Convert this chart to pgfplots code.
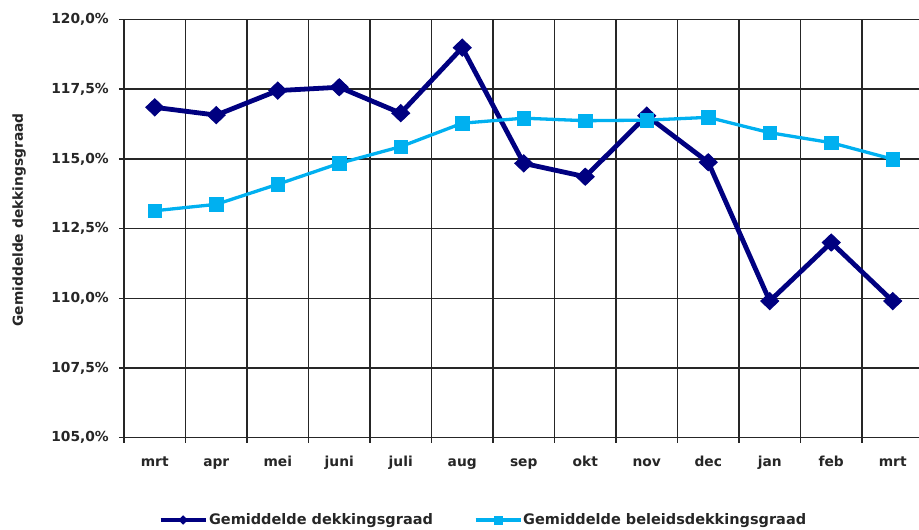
\documentclass[border=0pt]{standalone}
\usepackage{fontspec}
\setmainfont{DejaVu Sans}
\usepackage{pgfplots}
\pgfplotsset{compat=1.18}
\definecolor{darkser}{HTML}{000080}
\definecolor{lightser}{HTML}{00B0F0}
\definecolor{gridc}{HTML}{262626}
\newcommand\lbl{\fontsize{13.8}{16}\selectfont\bfseries}
\newcommand\leg{\fontsize{14.5}{17}\selectfont\bfseries}
\begin{document}
\begin{tikzpicture}[x=1pt,y=1pt]
\path[use as bounding box] (0,0) rectangle (919,530);
\begin{axis}[
  at={(124pt,92.3pt)}, anchor=south west,
  scale only axis, width=795pt, height=418.2pt,
  xmin=-0.5, xmax=12.427, ymin=105, ymax=120,
  axis x line*=bottom, axis y line*=left,
  axis line style={gridc, line width=1.5pt},
  xtick={-0.5,0.5,1.5,2.5,3.5,4.5,5.5,6.5,7.5,8.5,9.5,10.5,11.5},
  xticklabels={},
  extra x ticks={0,1,2,3,4,5,6,7,8,9,10,11,12},
  extra x tick labels={mrt,apr,mei,juni,juli,aug,sep,okt,nov,dec,jan,feb,mrt},
  extra x tick style={major tick length=0pt, grid=none,
     xticklabel style={anchor=base, yshift=-29pt, inner sep=0pt}},
  ytick={105,107.5,110,112.5,115,117.5,120},
  yticklabels={{105,0\%},{107,5\%},{110,0\%},{112,5\%},{115,0\%},{117,5\%},{120,0\%}},
  yticklabel style={anchor=east, inner sep=0pt, xshift=-10pt},
  tick label style={font=\lbl, text=black!85},
  xmajorgrids, ymajorgrids,
  grid style={gridc, line width=1.5pt},
  tick align=outside, major tick length=5pt,
  tick style={gridc, line width=1.5pt},
  ylabel={Gemiddelde dekkingsgraad},
  ylabel style={at={(axis description cs:-0.132,0.5206)}, anchor=center, font=\lbl, text=black!85},
  legend columns=2,
  legend style={at={(axis description cs:0.0428,-0.1968)}, anchor=west, draw=none, fill=none,
     inner sep=0pt, font=\leg, text=black!85, nodes={inner sep=1pt},
     /tikz/every even column/.style={column sep=40pt}},
  legend image code/.code={\draw[#1,mark=none] (0pt,0pt) -- (45pt,0pt);
     \draw[#1, mark size=4pt] plot coordinates {(22.5pt,0pt)};},
]
\addplot[darkser, line width=4.8pt, mark=diamond*, mark size=8.5pt, mark options={xscale=1.4, line width=1pt}]
  coordinates {(0,116.85) (1,116.57) (2,117.45) (3,117.57) (4,116.64) (5,118.99) (6,114.84) (7,114.36) (8,116.55) (9,114.88) (10,109.9) (11,112.0) (12,109.9)};
\addlegendentry{Gemiddelde dekkingsgraad}
\addplot[lightser, line width=3.3pt, mark=square*, mark size=6.8pt, mark options={line width=0.5pt}]
  coordinates {(0,113.14) (1,113.37) (2,114.09) (3,114.84) (4,115.44) (5,116.28) (6,116.46) (7,116.37) (8,116.39) (9,116.49) (10,115.94) (11,115.58) (12,114.99)};
\addlegendentry{Gemiddelde beleidsdekkingsgraad}
\end{axis}
\end{tikzpicture}
\end{document}
